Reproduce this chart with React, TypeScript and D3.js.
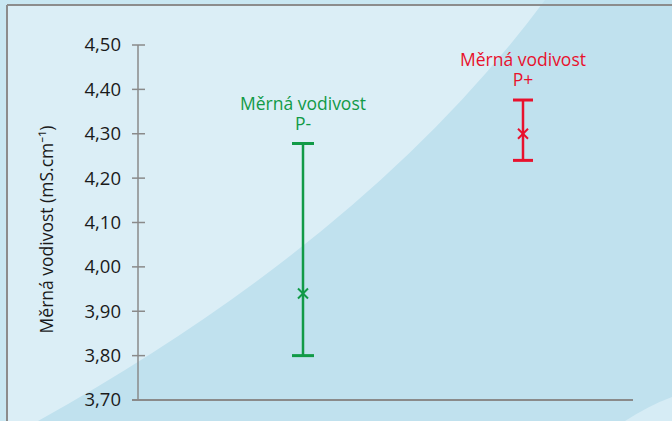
import { useMemo } from 'react';
import * as d3 from 'd3';

const W = 672;
const H = 421;

// two measured groups: mean with min/max range
const groups = ['P-', 'P+'];
const groupX = [1, 2];
const means = [3.94, 4.3];
const lows = [3.8, 4.24];
const highs = [4.278, 4.376];
const colors = ['#119a47', '#e8112d'];
const seriesName = 'Měrná vodivost';

const yTicks = [3.7, 3.8, 3.9, 4.0, 4.1, 4.2, 4.3, 4.4, 4.5];
const yTitle = 'Měrná vodivost (mS.cm⁻¹)';

const FONT = '"Open Sans", "Noto Sans", sans-serif';

export default function App() {
  const x = useMemo(() => d3.scaleLinear().domain([0.25, 2.5]).range([138, 633]), []);
  const y = useMemo(() => d3.scaleLinear().domain([3.7, 4.5]).range([400, 45]), []);
  const fmt = (v: number) => d3.format('.2f')(v).replace('.', ',');

  // decorative background arcs
  const bigArc = d3.path();
  bigArc.moveTo(38, H);
  bigArc.quadraticCurveTo(370, 236, 545, 0);
  bigArc.lineTo(W, 0);
  bigArc.lineTo(W, H);
  bigArc.closePath();

  const cornerArc = d3.path();
  cornerArc.moveTo(625, H);
  cornerArc.quadraticCurveTo(650, 405, W, 397);
  cornerArc.lineTo(W, H);
  cornerArc.closePath();

  const x0 = x.range()[0];
  const x1 = x.range()[1];
  const yBase = y(3.7);

  return (
    <svg
      width={W}
      height={H}
      viewBox={`0 0 ${W} ${H}`}
      style={{ position: 'absolute', left: 0, top: 0, display: 'block' }}
    >
      <rect width={W} height={H} fill="#c9e7f2" />
      <rect x={7} y={5} width={W} height={H} fill="#dbeef6" />
      <path d={bigArc.toString()} fill="#c0e1ee" />
      <path d={cornerArc.toString()} fill="#d6ecf5" />
      <line x1={7} y1={5} x2={W} y2={5} stroke="#8c8c8c" strokeWidth={2} />
      <line x1={7} y1={5} x2={7} y2={H} stroke="#8c8c8c" strokeWidth={2} />

      {/* y axis */}
      <line x1={x0} y1={y(4.5)} x2={x0} y2={yBase} stroke="#8a8a8a" strokeWidth={1.5} />
      {yTicks.map((t) => (
        <g key={t}>
          <line x1={x0 - 6} x2={x0 + 7} y1={y(t)} y2={y(t)} stroke="#8a8a8a" strokeWidth={1.5} />
          <text
            x={x0 - 17}
            y={y(t)}
            dy="0.35em"
            textAnchor="end"
            fontFamily={FONT}
            fontSize={18.5}
            fill="#1a1a1a"
          >
            {fmt(t)}
          </text>
        </g>
      ))}
      <line x1={x0 - 6} y1={yBase} x2={x1} y2={yBase} stroke="#8a8a8a" strokeWidth={2} />
      <text
        transform={`translate(53,${(y(4.5) + yBase) / 2 + 7}) rotate(-90)`}
        textAnchor="middle"
        fontFamily={FONT}
        fontSize={17.5}
        fill="#1a1a1a"
      >
        {yTitle}
      </text>

      {groups.map((g, i) => {
        const cx = x(groupX[i]);
        const c = colors[i];
        const capW = i === 0 ? 11 : 10;
        const m = 5;
        return (
          <g key={g} stroke={c} strokeWidth={2.5}>
            <line x1={cx} x2={cx} y1={y(highs[i])} y2={y(lows[i])} />
            <line x1={cx - capW} x2={cx + capW} y1={y(highs[i])} y2={y(highs[i])} strokeWidth={3} />
            <line x1={cx - capW} x2={cx + capW} y1={y(lows[i])} y2={y(lows[i])} strokeWidth={3} />
            <line x1={cx - m} x2={cx + m} y1={y(means[i]) - m} y2={y(means[i]) + m} strokeWidth={2} />
            <line x1={cx - m} x2={cx + m} y1={y(means[i]) + m} y2={y(means[i]) - m} strokeWidth={2} />
            <text
              y={y(highs[i]) - 34}
              textAnchor="middle"
              fontFamily={FONT}
              fontSize={17.5}
              fill={c}
              stroke="none"
            >
              <tspan x={cx}>{seriesName}</tspan>
              <tspan x={cx} dy={20}>
                {g}
              </tspan>
            </text>
          </g>
        );
      })}
    </svg>
  );
}
